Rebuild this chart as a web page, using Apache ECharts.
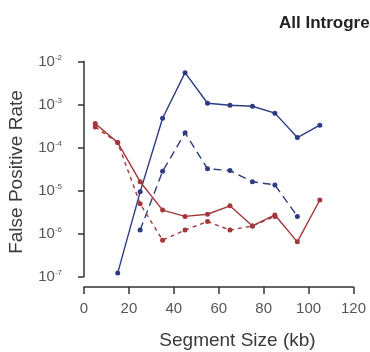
<!DOCTYPE html>
<html>
<head>
<meta charset="utf-8">
<script src="https://cdn.jsdelivr.net/npm/echarts@6/dist/echarts.min.js"></script>
<style>html,body{margin:0;padding:0;background:#fff}#c{width:370px;height:352px}</style>
</head>
<body>
<div id="c"></div>
<script>
var sizes = [5, 15, 25, 35, 45, 55, 65, 75, 85, 95, 105];
var blueSolid = [null, 1.2e-7, 9.3e-6, 4.8e-4, 5.5e-3, 1.07e-3, 9.6e-4, 9.1e-4, 6.3e-4, 1.7e-4, 3.3e-4];
var blueDashed = [null, null, 1.2e-6, 2.8e-5, 2.2e-4, 3.2e-5, 2.9e-5, 1.6e-5, 1.35e-5, 2.5e-6, null];
var redSolid = [3.6e-4, 1.3e-4, 1.6e-5, 3.5e-6, 2.5e-6, 2.8e-6, 4.4e-6, 1.5e-6, 2.7e-6, 6.4e-7, 6e-6];
var redDashed = [3e-4, 1.3e-4, 4.9e-6, 7e-7, 1.2e-6, 1.9e-6, 1.2e-6, 1.5e-6, 2.5e-6, null, null];
var xTicks = [0, 20, 40, 60, 80, 100, 120];
var titleText = 'All Introgressions';
var xTitle = 'Segment Size (kb)';
var yTitle = 'False Positive Rate';

var BLUE = '#2d3b82';
var RED = '#a3373a';
var FONT = 'Liberation Sans, Arial, sans-serif';

function pairs(arr) {
  var out = [];
  for (var i = 0; i < sizes.length; i++) if (arr[i] != null) out.push([sizes[i], arr[i]]);
  return out;
}
function mk(name, arr, color, dash) {
  return {
    name: name, type: 'line', data: pairs(arr),
    symbol: 'circle', symbolSize: 5,
    itemStyle: { color: color },
    lineStyle: { color: color, width: 1.4, type: dash },
    animation: false
  };
}
var chart = echarts.init(document.getElementById('c'), null, { renderer: 'canvas' });
chart.setOption({
  animation: false,
  title: {
    text: titleText, left: 274, top: 10,
    textStyle: { fontFamily: FONT, fontWeight: 'bold', fontSize: 17, color: '#222' }
  },
  grid: { left: 84, right: 16.5, top: 61.5, bottom: 75.5 },
  xAxis: {
    type: 'value', min: xTicks[0], max: xTicks[xTicks.length - 1], interval: 20,
    offset: 10.5,
    axisLine: { show: true, lineStyle: { color: '#333', width: 1.5 } },
    axisTick: { show: true, inside: false, length: 7, lineStyle: { color: '#333', width: 1.5 } },
    axisLabel: { margin: 14, fontFamily: FONT, fontSize: 15, color: '#555' },
    splitLine: { show: false }
  },
  yAxis: {
    type: 'log', logBase: 10, min: 1e-7, max: 1e-2,
    offset: 5,
    axisLine: { show: true, lineStyle: { color: '#333', width: 1.5 } },
    axisTick: { show: true, inside: false, length: 6, lineStyle: { color: '#333', width: 1.5 } },
    minorTick: { show: false },
    splitLine: { show: false },
    axisLabel: {
      margin: 17,
      formatter: function (v) {
        var e = Math.round(Math.log10(v));
        return '{b|10}{s|' + e + '}';
      },
      rich: {
        b: { fontFamily: FONT, fontSize: 15, color: '#555', lineHeight: 16 },
        s: { fontFamily: FONT, fontSize: 8, color: '#555', verticalAlign: 'top', lineHeight: 8 }
      }
    }
  },
  graphic: [
    {
      type: 'text', x: 237.5, y: 341,
      style: { text: xTitle, fontFamily: FONT, fontSize: 19, fill: '#3a3a3a', textAlign: 'center', textVerticalAlign: 'middle' }
    },
    {
      type: 'text', x: 17, y: 172, rotation: Math.PI / 2,
      style: { text: yTitle, fontFamily: FONT, fontSize: 19, fill: '#3a3a3a', textAlign: 'center', textVerticalAlign: 'middle' }
    }
  ],
  series: [
    mk('blueSolid', blueSolid, BLUE, 'solid'),
    mk('blueDashed', blueDashed, BLUE, [8, 5]),
    mk('redSolid', redSolid, RED, 'solid'),
    mk('redDashed', redDashed, RED, [4, 4])
  ]
});
</script>
</body>
</html>
